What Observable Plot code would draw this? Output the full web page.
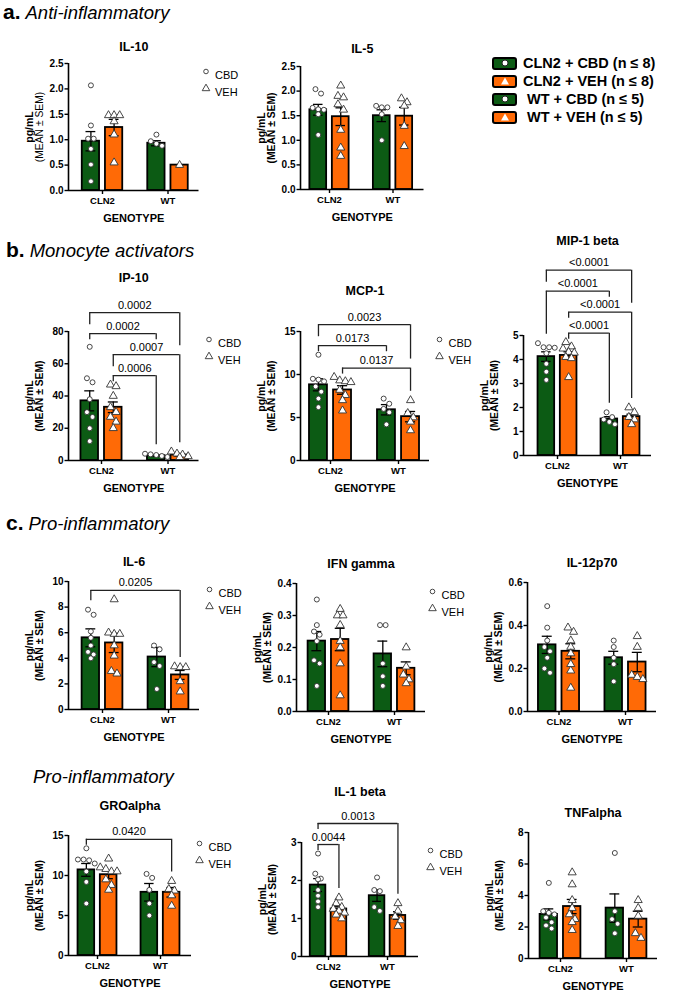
<!DOCTYPE html>
<html>
<head>
<meta charset="utf-8">
<script src="https://cdn.jsdelivr.net/npm/d3@7"></script>
<script src="https://cdn.jsdelivr.net/npm/@observablehq/plot@0.6"></script>
<style>
  body { margin: 0; background: #fff; }
  #fig { position: relative; width: 673px; height: 992px; overflow: hidden;
         font-family: "Liberation Sans", Arial, sans-serif; color: #000; }
  .sec { position: absolute; white-space: nowrap; line-height: 20px; }
  .sec b { font-size: 21px; font-weight: bold; margin-right: 5px; }
  .sec i { font-size: 18.5px; font-style: italic; }
  .panel { position: absolute; }
  #key { position: absolute; left: 492px; top: 54px; font-weight: bold; font-size: 14.5px; }
  #key .row { height: 18px; display: flex; align-items: center; white-space: nowrap; }
  #key .sw { width: 21px; height: 9px; border: 2px solid #000; border-radius: 3px;
             margin-right: 6px; position: relative; }
  #key .sw::after { content: ""; position: absolute; left: 50%; top: 50%; transform: translate(-50%, -50%); }
  #key .c::after { width: 5px; height: 5px; border-radius: 50%; background: #fff; border: 1px solid #222; }
  #key .t::after { width: 0; height: 0; border-left: 4px solid transparent; border-right: 4px solid transparent;
                   border-bottom: 7px solid #fff; }
</style>
</head>
<body>
<div id="fig"></div>
<script>
// ---- groups -------------------------------------------------------------
const genotypes = ["CLN2", "WT"];
const treatments = ["CBD", "VEH"];
const groupNames = ["CLN2 + CBD", "CLN2 + VEH", "WT + CBD", "WT + VEH"];
const groupSizes = ["(n ≤ 8)", "(n ≤ 8)", "(n ≤ 5)", "(n ≤ 5)"];

// ---- cytokine values (pg/mL), group order: CLN2 CBD, CLN2 VEH, WT CBD, WT VEH
const il10Points = [[2.07, 1.28, 1.02, 1.02, 0.82, 0.51, 0.18], [1.48, 1.48, 1.48, 1.36, 1.10, 0.55], [1.10, 0.97, 0.92, 0.88], [0.50]];
const il10Mean = [0.97, 1.24, 0.93, 0.50];
const il10Sem = [0.19, 0.16, 0.05, 0];

const il5Points = [[2.04, 1.95, 1.66, 1.63, 1.62, 1.53, 1.11], [2.11, 1.90, 1.87, 1.73, 1.62, 1.21, 0.85, 0.68], [1.70, 1.67, 1.67, 1.53, 1.00], [1.85, 1.77, 1.70, 1.29, 0.88]];
const il5Mean = [1.62, 1.48, 1.50, 1.49];
const il5Sem = [0.11, 0.18, 0.12, 0.18];

const ip10Points = [[70.5, 51, 48.5, 38, 30, 27, 20, 12], [47, 46, 40, 33, 30, 27, 24, 20], [4.2, 3.8, 3.4, 2.8, 2.2], [5.5, 4.2, 3.6, 2.6, 2.0]];
const ip10Mean = [37, 33, 3.0, 3.4];
const ip10Sem = [6.2, 3.3, 0.4, 0.6];

const mcp1Points = [[12.3, 9.4, 9.2, 9.5, 8.6, 8.0, 7.2, 6.2], [9.7, 9.3, 9.1, 9.2, 8.2, 7.6, 7.0, 5.8], [7.2, 6.6, 6.0, 5.6, 4.2], [7.0, 5.5, 5.0, 4.5, 3.5]];
const mcp1Mean = [8.8, 8.2, 5.9, 5.1];
const mcp1Sem = [0.7, 0.5, 0.6, 0.6];

const mip1bPoints = [[4.68, 4.51, 4.49, 4.51, 4.26, 3.82, 3.49, 3.15], [4.72, 4.54, 4.45, 4.31, 4.28, 4.10, 4.05, 3.26], [1.8, 1.6, 1.5, 1.4, 1.3], [2.0, 1.8, 1.6, 1.5, 1.3]];
const mip1bMean = [4.12, 4.17, 1.52, 1.62];
const mip1bSem = [0.20, 0.15, 0.10, 0.10];

const il6Points = [[7.8, 7.4, 6.1, 5.6, 5.0, 4.5, 4.0, 4.3], [8.6, 6.0, 5.9, 5.9, 5.0, 4.2, 3.0, 2.8], [5.0, 4.7, 3.7, 3.4, 1.6], [3.36, 3.3, 3.3, 2.2, 1.4]];
const il6Mean = [5.6, 5.2, 4.1, 2.7];
const il6Sem = [0.7, 0.75, 0.75, 0.35];

const ifngPoints = [[0.35, 0.27, 0.25, 0.24, 0.22, 0.15, 0.16, 0.08], [0.32, 0.30, 0.30, 0.27, 0.22, 0.20, 0.15, 0.05], [0.27, 0.27, 0.15, 0.11, 0.08], [0.20, 0.14, 0.115, 0.10, 0.088]];
const ifngMean = [0.22, 0.225, 0.18, 0.135];
const ifngSem = [0.03, 0.035, 0.04, 0.02];

const il12Points = [[0.49, 0.39, 0.33, 0.30, 0.28, 0.25, 0.20, 0.18], [0.39, 0.37, 0.33, 0.30, 0.27, 0.22, 0.19, 0.11], [0.33, 0.30, 0.25, 0.22, 0.14], [0.35, 0.30, 0.17, 0.16, 0.15]];
const il12Mean = [0.31, 0.28, 0.25, 0.23];
const il12Sem = [0.04, 0.035, 0.03, 0.045];

const groPoints = [[13.4, 12.0, 11.9, 12.0, 11.5, 10.5, 9.2, 6.5], [12.1, 11.0, 10.8, 10.5, 10.5, 9.5, 8.8, 8.2], [10.2, 9.7, 8.2, 6.5, 5.0], [9.3, 8.3, 8.1, 7.5, 6.2]];
const groMean = [10.7, 10.1, 7.9, 7.9];
const groSem = [0.8, 0.5, 1.1, 0.6];

const il1bPoints = [[2.71, 2.18, 2.03, 2.05, 1.75, 1.6, 1.45, 1.3], [1.55, 1.4, 1.3, 1.25, 1.2, 1.15, 1.1, 1.0], [2.08, 1.75, 1.72, 1.3, 1.2], [1.4, 1.2, 1.05, 0.95, 0.8]];
const il1bMean = [1.88, 1.25, 1.6, 1.08];
const il1bSem = [0.17, 0.06, 0.15, 0.1];

const tnfPoints = [[4.8, 3.0, 2.9, 2.8, 2.6, 2.3, 1.9, 2.1], [5.46, 4.7, 3.7, 3.2, 2.8, 2.5, 2.3, 1.8], [6.7, 3.0, 2.5, 2.2, 1.6], [3.7, 3.2, 2.7, 1.6, 1.3]];
const tnfMean = [2.8, 3.3, 3.2, 2.5];
const tnfSem = [0.35, 0.45, 0.9, 0.5];

// ---- multiple-comparison results: [group a, group b, adjusted p], lowest bracket first
const ip10Tests = [[1, 2, "0.0006"], [1, 3, "0.0007"], [0, 2, "0.0002"], [0, 3, "0.0002"]];
const mcp1Tests = [[1, 3, "0.0137"], [0, 2, "0.0173"], [0, 3, "0.0023"]];
const mip1bTests = [[1, 2, "<0.0001"], [1, 3, "<0.0001"], [0, 2, "<0.0001"], [0, 3, "<0.0001"]];
const il6Tests = [[0, 3, "0.0205"]];
const groTests = [[0, 3, "0.0420"]];
const il1bTests = [[0, 1, "0.0044"], [0, 3, "0.0013"]];

// ---- styling -------------------------------------------------------------
const GREEN = "#0c5b14";
const ORANGE = "#ff6a06";
const FONT = "'Liberation Sans', Arial, Helvetica, sans-serif";

const fig = document.getElementById("fig");

// Section headings
function heading(letter, text, left, baseline) {
  const d = document.createElement("div");
  d.className = "sec";
  d.style.left = left + "px";
  d.style.top = Math.max(1, baseline - 17.2) + "px";
  d.innerHTML = (letter ? `<b>${letter}</b>` : "") + `<i>${text}</i>`;
  fig.appendChild(d);
}
heading("a.", "Anti-inflammatory", 3, 19);
heading("b.", "Monocyte activators", 6, 257);
heading("c.", "Pro-inflammatory", 6, 530);
heading("", "Pro-inflammatory", 33, 784);

// Group key
const key = document.createElement("div");
key.id = "key";
groupNames.forEach((g, i) => {
  const row = document.createElement("div");
  row.className = "row";
  const sw = document.createElement("span");
  sw.className = "sw " + (i % 2 ? "t" : "c");
  sw.style.background = i % 2 ? ORANGE : GREEN;
  const tx = document.createElement("span");
  tx.textContent = (i >= 2 ? "\u00a0" : "") + g + " " + groupSizes[i];
  row.appendChild(sw);
  row.appendChild(tx);
  key.appendChild(row);
});
fig.appendChild(key);

// ---- one bar + scatter panel -------------------------------------------------
function drawPanel(p) {
  const s = p.c1 - p.c0;                 // pixels between genotype centres
  const xEnd = p.c1 + 31;
  const xDom = [(p.ax - p.c0) / s, (xEnd - p.c0) / s];
  const ky = (p.bot - p.top) / p.yMax;    // pixels per pg/mL
  const py = v => p.bot - v * ky;
  const vy = px => (p.bot - px) / ky;
  const mt = p.top - (p.titleY - 16);
  const ml = 62, mr = p.legend ? 64 : 14, mb = 40;
  const width = ml + (xEnd - p.ax) + mr;
  const height = mt + (p.bot - p.top) + mb;
  const off = 0.177, half = 0.132;
  const gx = i => Math.floor(i / 2) + (i % 2 === 0 ? -off : off);

  const bars = p.mean.map((m, i) => ({x1: gx(i) - half, x2: gx(i) + half, y: m, fill: i % 2 ? ORANGE : GREEN}));
  const errs = p.mean.map((m, i) => ({x: gx(i), lo: m - p.sem[i], hi: m + p.sem[i], sem: p.sem[i]})).filter(d => d.sem > 0);
  const capW = 0.075;

  // spread points sitting at nearly the same height side by side
  const d = 5.6;
  const dots = [];
  p.points.forEach((vals, i) => {
    const sorted = [...vals].sort((a, b) => b - a);
    let row = [];
    const flush = () => {
      row.forEach((v, j) => dots.push({x: gx(i) + ((j - (row.length - 1) / 2) * d) / s, y: v, sym: treatments[i % 2]}));
      row = [];
    };
    for (const v of sorted) {
      if (row.length && (row[0] - v) * ky >= d) flush();
      row.push(v);
    }
    flush();
  });

  // comparison brackets stacked above the data
  const tops = p.points.map((vals, i) => py(Math.max(...vals, p.mean[i] + p.sem[i])));
  const levels = [];
  let prev = Infinity;
  for (const [a, b, label] of (p.tests || [])) {
    let spanTop = Infinity;
    for (let g = a; g <= b; g++) spanTop = Math.min(spanTop, tops[g]);
    const level = Math.min(spanTop - 9, prev - 21);
    prev = level;
    levels.push({a, b, label, level, mid: (gx(a) + gx(b)) / 2});
  }
  const brLines = levels.map(l => ({x1: gx(l.a), x2: gx(l.b), xm: l.mid, y: vy(l.level), label: l.label}));
  const brLegs = [];
  levels.forEach((l, k) => {
    for (const g of [l.a, l.b]) {
      let obstacle = tops[g];
      for (let j = 0; j < k; j++) {
        const o = levels[j];
        if (g >= o.a && g <= o.b) obstacle = Math.min(obstacle, o.level);
        // stop above a lower bracket's p-value text when it sits under this leg
        if (Math.abs((gx(g) - o.mid) * s) < o.label.length * 3.2) obstacle = Math.min(obstacle, o.level - 14);
      }
      brLegs.push({x: gx(g), y1: vy(l.level), y2: vy(Math.max(l.level + 6, obstacle - 9))});
    }
  });

  const yTicks = d3.range(0, p.yMax + p.yStep / 2, p.yStep);
  const fmt = d3.format(`.${p.yDigits}f`);

  const marks = [
    Plot.rectY(bars, {x1: "x1", x2: "x2", y: "y", fill: "fill", stroke: "#000", strokeWidth: 1.8}),
    Plot.ruleX(errs, {x: "x", y1: "lo", y2: "hi", stroke: "#000", strokeWidth: 1.3}),
    Plot.ruleY(errs, {y: "hi", x1: d => d.x - capW, x2: d => d.x + capW, stroke: "#000", strokeWidth: 1.3}),
    Plot.ruleY(errs, {y: "lo", x1: d => d.x - capW, x2: d => d.x + capW, stroke: "#000", strokeWidth: 1.3}),
    Plot.dot(dots.filter(o => o.sym === "CBD"), {x: "x", y: "y", r: 2.5, symbol: "circle", fill: "#fff", stroke: "#333", strokeWidth: 0.9}),
    Plot.dot(dots.filter(o => o.sym === "VEH"), {x: "x", y: "y", r: 3, symbol: "triangle", fill: "#fff", stroke: "#333", strokeWidth: 0.9}),
    Plot.ruleX([xDom[0]], {stroke: "#000", strokeWidth: 1.6}),
    Plot.ruleY([0], {stroke: "#000", strokeWidth: 1.6}),
    Plot.axisY({ticks: yTicks, tickFormat: fmt, tickSize: 3.5, tickPadding: 1.5, fontSize: 10, strokeWidth: 1.4, label: null}),
    Plot.axisX({ticks: [0, 1], tickFormat: i => genotypes[i], tickSize: 4, tickPadding: 3, fontSize: 9.5, strokeWidth: 1.4, label: null}),
    Plot.text(["GENOTYPE"], {frameAnchor: "bottom", dy: 31, lineAnchor: "bottom", fontSize: 11}),
    Plot.text([p.title], {frameAnchor: "top", dy: p.titleY - p.top, lineAnchor: "bottom", fontSize: 12.5}),
    Plot.text(["pg/mL"], {frameAnchor: "left", textAnchor: "middle", dx: -39, rotate: -90, fontSize: 10.5}),
    Plot.text(["(MEAN ± SEM)"], {frameAnchor: "left", textAnchor: "middle", dx: -28.5, rotate: -90, fontSize: 10.3, fontWeight: p.semBold ? "bold" : "normal"}),
    Plot.ruleY(brLines, {y: "y", x1: "x1", x2: "x2", stroke: "#222", strokeWidth: 1.3}),
    Plot.ruleX(brLegs, {x: "x", y1: "y1", y2: "y2", stroke: "#222", strokeWidth: 1.3}),
    Plot.text(brLines, {x: "xm", y: "y", text: "label", dy: -4, lineAnchor: "bottom", fontSize: 11, fontWeight: "normal"})
  ];
  if (p.legend) {
    marks.push(
      Plot.dot([0], {frameAnchor: "top-right", dx: p.legDx, dy: 8, r: 2.3, symbol: "circle", fill: "#fff", stroke: "#333", strokeWidth: 0.9}),
      Plot.dot([0], {frameAnchor: "top-right", dx: p.legDx, dy: 25, r: 2.8, symbol: "triangle", fill: "#fff", stroke: "#333", strokeWidth: 0.9}),
      Plot.text(["CBD"], {frameAnchor: "top-right", dx: p.legDx + 9, dy: 8, textAnchor: "start", fontSize: 11, fontWeight: "normal"}),
      Plot.text(["VEH"], {frameAnchor: "top-right", dx: p.legDx + 9, dy: 25, textAnchor: "start", fontSize: 11, fontWeight: "normal"})
    );
  }

  const chart = Plot.plot({
    width, height,
    marginLeft: ml, marginRight: mr, marginTop: mt, marginBottom: mb,
    x: {type: "linear", domain: xDom},
    y: {type: "linear", domain: [0, p.yMax]},
    style: {background: "none", overflow: "visible", maxWidth: "none", fontFamily: FONT, fontWeight: "bold", fontSize: "10px", color: "#000"},
    marks
  });
  const holder = document.createElement("div");
  holder.className = "panel";
  holder.style.left = (p.ax - ml) + "px";
  holder.style.top = (p.top - mt) + "px";
  holder.appendChild(chart);
  fig.appendChild(holder);
}

const panels = [
  {title: "IL-10", points: il10Points, mean: il10Mean, sem: il10Sem, yMax: 2.5, yStep: 0.5, yDigits: 1, ax: 68, c0: 102, c1: 167.5, top: 63, bot: 190, titleY: 50, legend: true, legDx: 7},
  {title: "IL-5", points: il5Points, mean: il5Mean, sem: il5Sem, yMax: 2.5, yStep: 0.5, yDigits: 1, ax: 300, c0: 329, c1: 392.5, top: 66, bot: 189, titleY: 52, semBold: true},
  {title: "IP-10", points: ip10Points, mean: ip10Mean, sem: ip10Sem, yMax: 80, yStep: 20, yDigits: 0, ax: 68, c0: 101, c1: 167.5, top: 331, bot: 460, titleY: 281, legend: true, legDx: 10, tests: ip10Tests, semBold: true},
  {title: "MCP-1", points: mcp1Points, mean: mcp1Mean, sem: mcp1Sem, yMax: 15, yStep: 5, yDigits: 0, ax: 300, c0: 330, c1: 398, top: 331, bot: 460, titleY: 294, legend: true, legDx: 10, tests: mcp1Tests, semBold: true},
  {title: "MIP-1 beta", points: mip1bPoints, mean: mip1bMean, sem: mip1bSem, yMax: 5, yStep: 1, yDigits: 0, ax: 523, c0: 557, c1: 620, top: 335, bot: 455, titleY: 244, tests: mip1bTests, semBold: true},
  {title: "IL-6", points: il6Points, mean: il6Mean, sem: il6Sem, yMax: 10, yStep: 2, yDigits: 0, ax: 68, c0: 102, c1: 168, top: 581, bot: 709, titleY: 565, legend: true, legDx: 10, tests: il6Tests, semBold: true},
  {title: "IFN gamma", points: ifngPoints, mean: ifngMean, sem: ifngSem, yMax: 0.4, yStep: 0.1, yDigits: 1, ax: 296, c0: 328, c1: 394, top: 583, bot: 711, titleY: 567, legend: true, legDx: 7, semBold: true},
  {title: "IL-12p70", points: il12Points, mean: il12Mean, sem: il12Sem, yMax: 0.6, yStep: 0.2, yDigits: 1, ax: 527, c0: 558.5, c1: 625, top: 582, bot: 711, titleY: 566, semBold: true},
  {title: "GROalpha", points: groPoints, mean: groMean, sem: groSem, yMax: 15, yStep: 5, yDigits: 0, ax: 68, c0: 97, c1: 160, top: 835, bot: 955, titleY: 809, legend: true, legDx: 8, tests: groTests, semBold: true},
  {title: "IL-1 beta", points: il1bPoints, mean: il1bMean, sem: il1bSem, yMax: 3, yStep: 1, yDigits: 0, ax: 301, c0: 328, c1: 387, top: 842, bot: 956, titleY: 795, legend: true, legDx: 12, tests: il1bTests, semBold: true},
  {title: "TNFalpha", points: tnfPoints, mean: tnfMean, sem: tnfSem, yMax: 8, yStep: 2, yDigits: 0, ax: 528, c0: 560, c1: 626, top: 832, bot: 958, titleY: 816, semBold: true}
];
panels.forEach(drawPanel);
</script>
</body>
</html>
